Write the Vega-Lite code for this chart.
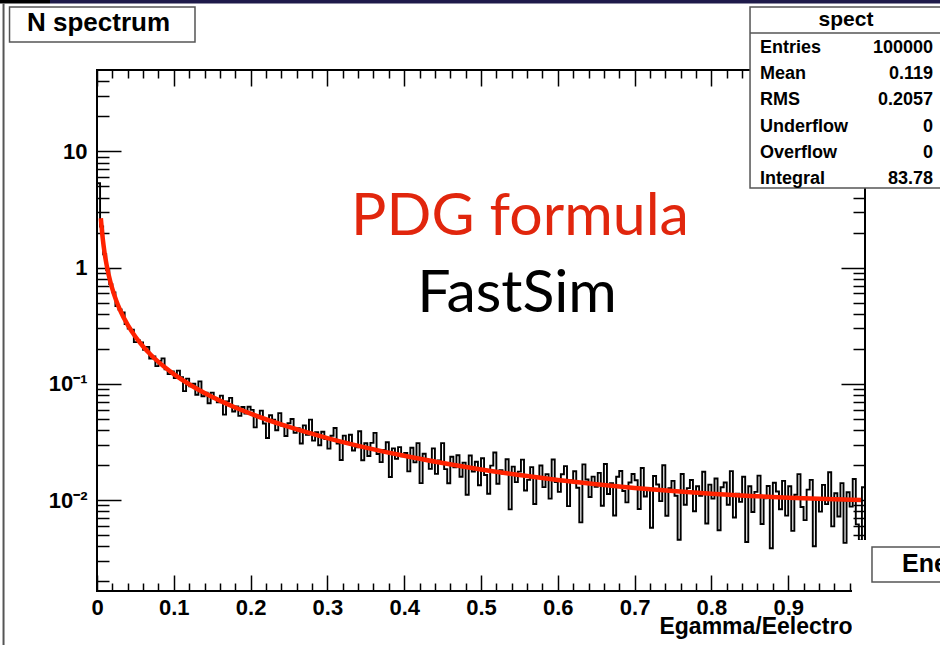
{
  "$schema": "https://vega.github.io/schema/vega-lite/v6.json",
  "width": 768,
  "height": 521,
  "autosize": {"type": "none"},
  "padding": {"left": 97, "top": 70, "right": 75, "bottom": 54},
  "background": "#ffffff",
  "config": {
    "view": {"stroke": "#000000", "strokeWidth": 2},
    "font": "Liberation Sans",
    "axis": {"grid": false, "domain": false, "tickColor": "#000000", "tickWidth": 1.5, "labelFont": "Liberation Sans", "labelFontWeight": "bold", "labelColor": "#000000", "titleFont": "Liberation Sans", "titleFontWeight": "bold", "titleColor": "#000000", "labelOverlap": false, "labelFlush": false}
  },
  "datasets": {
    "hist": [
      {"x":0.000,"y":5.3},{"x":0.004,"y":2.25},{"x":0.008,"y":1.30},{"x":0.012,"y":0.95},{"x":0.016,"y":0.72},
      {"x":0.020,"y":0.611},{"x":0.024,"y":0.467},{"x":0.028,"y":0.436},{"x":0.032,"y":0.411},{"x":0.036,"y":0.326},
      {"x":0.040,"y":0.299},{"x":0.044,"y":0.292},{"x":0.048,"y":0.228},{"x":0.052,"y":0.2355},{"x":0.056,"y":0.2262},
      {"x":0.060,"y":0.1958},{"x":0.064,"y":0.2075},{"x":0.068,"y":0.165},{"x":0.072,"y":0.1716},{"x":0.076,"y":0.1419},
      {"x":0.080,"y":0.1573},{"x":0.084,"y":0.1654},{"x":0.088,"y":0.1335},{"x":0.092,"y":0.1211},{"x":0.096,"y":0.1277},
      {"x":0.100,"y":0.1119},{"x":0.104,"y":0.1297},{"x":0.108,"y":0.1138},{"x":0.112,"y":0.0864},{"x":0.116,"y":0.1108},
      {"x":0.120,"y":0.0951},{"x":0.124,"y":0.0999},{"x":0.128,"y":0.0805},{"x":0.132,"y":0.1048},{"x":0.136,"y":0.0782},
      {"x":0.140,"y":0.0838},{"x":0.144,"y":0.068},{"x":0.148,"y":0.0839},{"x":0.152,"y":0.0748},{"x":0.156,"y":0.0694},
      {"x":0.160,"y":0.0791},{"x":0.164,"y":0.0543},{"x":0.168,"y":0.0705},{"x":0.172,"y":0.0757},{"x":0.176,"y":0.0578},
      {"x":0.180,"y":0.0637},{"x":0.184,"y":0.0529},{"x":0.188,"y":0.0632},{"x":0.192,"y":0.0554},{"x":0.196,"y":0.0634},
      {"x":0.200,"y":0.0596},{"x":0.204,"y":0.0422},{"x":0.208,"y":0.0531},{"x":0.212,"y":0.0588},{"x":0.216,"y":0.0455},
      {"x":0.220,"y":0.0342},{"x":0.224,"y":0.0536},{"x":0.228,"y":0.049},{"x":0.232,"y":0.0398},{"x":0.236,"y":0.0559},
      {"x":0.240,"y":0.0435},{"x":0.244,"y":0.0355},{"x":0.248,"y":0.0457},{"x":0.252,"y":0.0498},{"x":0.256,"y":0.0378},
      {"x":0.260,"y":0.0414},{"x":0.264,"y":0.0306},{"x":0.268,"y":0.0439},{"x":0.272,"y":0.0364},{"x":0.276,"y":0.0492},
      {"x":0.280,"y":0.0324},{"x":0.284,"y":0.0384},{"x":0.288,"y":0.0296},{"x":0.292,"y":0.0387},{"x":0.296,"y":0.0334},
      {"x":0.300,"y":0.0277},{"x":0.304,"y":0.0357},{"x":0.308,"y":0.0417},{"x":0.312,"y":0.0306},{"x":0.316,"y":0.0221},
      {"x":0.320,"y":0.0358},{"x":0.324,"y":0.0314},{"x":0.328,"y":0.0364},{"x":0.332,"y":0.0267},{"x":0.336,"y":0.0284},
      {"x":0.340,"y":0.0391},{"x":0.344,"y":0.022},{"x":0.348,"y":0.0308},{"x":0.352,"y":0.0239},{"x":0.356,"y":0.031},
      {"x":0.360,"y":0.0378},{"x":0.364,"y":0.0249},{"x":0.368,"y":0.0212},{"x":0.372,"y":0.027},{"x":0.376,"y":0.0314},
      {"x":0.380,"y":0.0158},{"x":0.384,"y":0.0278},{"x":0.388,"y":0.0226},{"x":0.392,"y":0.0285},{"x":0.396,"y":0.0238},
      {"x":0.400,"y":0.02535},{"x":0.404,"y":0.01763},{"x":0.408,"y":0.02818},{"x":0.412,"y":0.02108},{"x":0.416,"y":0.03087},
      {"x":0.420,"y":0.01399},{"x":0.424,"y":0.02503},{"x":0.428,"y":0.02198},{"x":0.432,"y":0.01854},{"x":0.436,"y":0.02782},
      {"x":0.440,"y":0.0168},{"x":0.444,"y":0.02191},{"x":0.448,"y":0.03085},{"x":0.452,"y":0.01843},{"x":0.456,"y":0.01395},
      {"x":0.460,"y":0.02355},{"x":0.464,"y":0.01911},{"x":0.468,"y":0.02431},{"x":0.472,"y":0.01586},{"x":0.476,"y":0.02098},
      {"x":0.480,"y":0.01111},{"x":0.484,"y":0.02415},{"x":0.488,"y":0.01761},{"x":0.492,"y":0.02135},{"x":0.496,"y":0.0134},
      {"x":0.500,"y":0.02287},{"x":0.504,"y":0.01642},{"x":0.508,"y":0.01132},{"x":0.512,"y":0.01978},{"x":0.516,"y":0.02567},
      {"x":0.520,"y":0.01382},{"x":0.524,"y":0.01806},{"x":0.528,"y":0.01673},{"x":0.532,"y":0.02243},{"x":0.536,"y":0.00831},
      {"x":0.540,"y":0.01937},{"x":0.544,"y":0.01426},{"x":0.548,"y":0.01754},{"x":0.552,"y":0.02226},{"x":0.556,"y":0.01206},
      {"x":0.560,"y":0.01491},{"x":0.564,"y":0.01917},{"x":0.568,"y":0.00924},{"x":0.572,"y":0.01563},{"x":0.576,"y":0.01979},
      {"x":0.580,"y":0.01292},{"x":0.584,"y":0.01669},{"x":0.588,"y":0.01029},{"x":0.592,"y":0.02232},{"x":0.596,"y":0.01425},
      {"x":0.600,"y":0.01175},{"x":0.604,"y":0.01664},{"x":0.608,"y":0.01957},{"x":0.612,"y":0.00886},{"x":0.616,"y":0.01479},
      {"x":0.620,"y":0.01767},{"x":0.624,"y":0.01275},{"x":0.628,"y":0.00642},{"x":0.632,"y":0.02025},{"x":0.636,"y":0.01503},
      {"x":0.640,"y":0.01061},{"x":0.644,"y":0.01591},{"x":0.648,"y":0.01297},{"x":0.652,"y":0.01712},{"x":0.656,"y":0.00894},
      {"x":0.660,"y":0.02041},{"x":0.664,"y":0.01127},{"x":0.668,"y":0.01396},{"x":0.672,"y":0.00736},{"x":0.676,"y":0.01584},
      {"x":0.680,"y":0.01779},{"x":0.684,"y":0.01195},{"x":0.688,"y":0.00954},{"x":0.692,"y":0.01415},{"x":0.696,"y":0.01673},
      {"x":0.700,"y":0.01481},{"x":0.704,"y":0.00837},{"x":0.708,"y":0.01888},{"x":0.712,"y":0.01073},{"x":0.716,"y":0.01242},
      {"x":0.720,"y":0.00578},{"x":0.724,"y":0.01608},{"x":0.728,"y":0.0136},{"x":0.732,"y":0.00978},{"x":0.736,"y":0.01991},
      {"x":0.740,"y":0.00733},{"x":0.744,"y":0.01267},{"x":0.748,"y":0.01461},{"x":0.752,"y":0.01089},{"x":0.756,"y":0.00455},
      {"x":0.760,"y":0.01673},{"x":0.764,"y":0.0091},{"x":0.768,"y":0.01266},{"x":0.772,"y":0.01489},{"x":0.776,"y":0.00801},
      {"x":0.780,"y":0.01314},{"x":0.784,"y":0.01085},{"x":0.788,"y":0.01753},{"x":0.792,"y":0.00629},{"x":0.796,"y":0.01357},
      {"x":0.800,"y":0.01029},{"x":0.804,"y":0.01533},{"x":0.808,"y":0.0055},{"x":0.812,"y":0.01287},{"x":0.816,"y":0.01416},
      {"x":0.820,"y":0.00911},{"x":0.824,"y":0.01771},{"x":0.828,"y":0.00707},{"x":0.832,"y":0.01133},{"x":0.836,"y":0.00965},
      {"x":0.840,"y":0.01585},{"x":0.844,"y":0.00436},{"x":0.848,"y":0.01313},{"x":0.852,"y":0.0079},{"x":0.856,"y":0.01176},
      {"x":0.860,"y":0.01623},{"x":0.864,"y":0.00622},{"x":0.868,"y":0.01037},{"x":0.872,"y":0.01322},{"x":0.876,"y":0.00385},
      {"x":0.880,"y":0.0141},{"x":0.884,"y":0.01185},{"x":0.888,"y":0.00833},{"x":0.892,"y":0.01462},{"x":0.896,"y":0.00734},
      {"x":0.900,"y":0.01315},{"x":0.904,"y":0.00543},{"x":0.908,"y":0.01109},{"x":0.912,"y":0.01671},{"x":0.916,"y":0.00871},
      {"x":0.920,"y":0.00671},{"x":0.924,"y":0.0123},{"x":0.928,"y":0.01491},{"x":0.932,"y":0.004},{"x":0.936,"y":0.01026},
      {"x":0.940,"y":0.00795},{"x":0.944,"y":0.01349},{"x":0.948,"y":0.00922},{"x":0.952,"y":0.01735},{"x":0.956,"y":0.00593},
      {"x":0.960,"y":0.01144},{"x":0.964,"y":0.00721},{"x":0.968,"y":0.01399},{"x":0.972,"y":0.00428},{"x":0.976,"y":0.01168},
      {"x":0.980,"y":0.00877},{"x":0.984,"y":0.01518},{"x":0.988,"y":0.00618},{"x":0.992,"y":0.0045},{"x":0.996,"y":0.01288},
      {"x":1.000,"y":0.01288}
    ],
    "pdg": [
      {"x":0.005,"y":2.653},{"x":0.0075,"y":1.765},{"x":0.01,"y":1.32},{"x":0.0125,"y":1.053},{"x":0.015,"y":0.876},
      {"x":0.02,"y":0.654},{"x":0.025,"y":0.52},{"x":0.03,"y":0.431},{"x":0.04,"y":0.3204},{"x":0.05,"y":0.2538},
      {"x":0.06,"y":0.2095},{"x":0.07,"y":0.1778},{"x":0.08,"y":0.1541},{"x":0.09,"y":0.1357},{"x":0.1,"y":0.121},
      {"x":0.12,"y":0.099},{"x":0.14,"y":0.0833},{"x":0.16,"y":0.0716},{"x":0.18,"y":0.0625},{"x":0.2,"y":0.0553},
      {"x":0.25,"y":0.0425},{"x":0.3,"y":0.0341},{"x":0.35,"y":0.02826},{"x":0.4,"y":0.024},{"x":0.45,"y":0.0208},
      {"x":0.5,"y":0.01833},{"x":0.55,"y":0.01641},{"x":0.6,"y":0.01489},{"x":0.65,"y":0.01368},{"x":0.7,"y":0.01271},
      {"x":0.75,"y":0.01194},{"x":0.8,"y":0.01133},{"x":0.85,"y":0.01085},{"x":0.9,"y":0.01048},{"x":0.95,"y":0.0102},
      {"x":0.995,"y":0.01002}
    ]
  },
  "resolve": {"axis": {"x": "independent", "y": "independent"}},
  "layer": [
    {
      "data": {"name": "hist"},
      "mark": {"type": "line", "interpolate": "step-after", "color": "#000000", "strokeWidth": 1.9, "clip": true},
      "encoding": {
        "x": {"field": "x", "type": "quantitative",
          "scale": {"domain": [0, 1], "nice": false, "zero": false},
          "axis": {"orient": "bottom", "values": [0,0.1,0.2,0.3,0.4,0.5,0.6,0.7,0.8,0.9], "tickSize": -16, "labelPadding": 22, "labelFontSize": 22, "labelBaseline": "top",
            "labelExpr": "datum.value == 0 ? '0' : format(datum.value, '.1f')",
            "title": "Egamma/Eelectro", "titleFontSize": 23, "titleAlign": "right", "titleX": 755, "titleY": 42, "titleBaseline": "alphabetic"}},
        "y": {"field": "y", "type": "quantitative",
          "scale": {"type": "log", "domain": [0.00165, 50], "nice": false},
          "axis": {"orient": "left", "values": [0.01, 0.1, 1, 10], "tickSize": -24, "labelPadding": 34, "labelFontSize": 22, "labelAlign": "right", "labelBaseline": "middle",
            "labelExpr": "datum.value >= 1 ? format(datum.value, 'd') : (datum.value > 0.05 ? '10⁻¹' : '10⁻²')",
            "title": null}}
      }
    },
    {
      "data": {"name": "pdg"},
      "mark": {"type": "line", "interpolate": "monotone", "color": "#ff2200", "strokeWidth": 4.5, "clip": true},
      "encoding": {
        "x": {"field": "x", "type": "quantitative",
          "axis": {"orient": "bottom", "values": [0.02,0.04,0.06,0.08,0.12,0.14,0.16,0.18,0.22,0.24,0.26,0.28,0.32,0.34,0.36,0.38,0.42,0.44,0.46,0.48,0.52,0.54,0.56,0.58,0.62,0.64,0.66,0.68,0.72,0.74,0.76,0.78,0.82,0.84,0.86,0.88,0.92,0.94,0.96,0.98], "tickSize": -8, "labels": false, "title": null}},
        "y": {"field": "y", "type": "quantitative",
          "axis": {"orient": "left", "values": [0.002,0.003,0.004,0.005,0.006,0.007,0.008,0.009,0.02,0.03,0.04,0.05,0.06,0.07,0.08,0.09,0.2,0.3,0.4,0.5,0.6,0.7,0.8,0.9,2,3,4,5,6,7,8,9,20,30,40], "tickSize": -12, "labels": false, "title": null}}
      }
    },
    {
      "data": {"values": [{}]},
      "mark": {"type": "text", "text": "PDG formula", "font": "Lato", "fontSize": 59, "color": "#e1260d", "align": "center", "baseline": "alphabetic"},
      "encoding": {
        "x": {"datum": 0.5508, "type": "quantitative",
          "axis": {"orient": "top", "values": [0,0.1,0.2,0.3,0.4,0.5,0.6,0.7,0.8,0.9], "tickSize": -16, "labels": false, "title": null}},
        "y": {"datum": 1.904, "type": "quantitative",
          "axis": {"orient": "right", "values": [0.01, 0.1, 1, 10], "tickSize": -24, "labels": false, "title": null}}
      }
    },
    {
      "data": {"values": [{}]},
      "mark": {"type": "text", "text": "FastSim", "font": "Lato", "fontSize": 59, "color": "#000000", "align": "center", "baseline": "alphabetic"},
      "encoding": {
        "x": {"datum": 0.5469, "type": "quantitative",
          "axis": {"orient": "top", "values": [0.02,0.04,0.06,0.08,0.12,0.14,0.16,0.18,0.22,0.24,0.26,0.28,0.32,0.34,0.36,0.38,0.42,0.44,0.46,0.48,0.52,0.54,0.56,0.58,0.62,0.64,0.66,0.68,0.72,0.74,0.76,0.78,0.82,0.84,0.86,0.88,0.92,0.94,0.96,0.98], "tickSize": -8, "labels": false, "title": null}},
        "y": {"datum": 0.4143, "type": "quantitative",
          "axis": {"orient": "right", "values": [0.002,0.003,0.004,0.005,0.006,0.007,0.008,0.009,0.02,0.03,0.04,0.05,0.06,0.07,0.08,0.09,0.2,0.3,0.4,0.5,0.6,0.7,0.8,0.9,2,3,4,5,6,7,8,9,20,30,40], "tickSize": -12, "labels": false, "title": null}}
      }
    },
    {
      "data": {"values": [{}]},
      "mark": {"type": "rect", "fill": "#ffffff", "stroke": null},
      "encoding": {
        "x": {"datum": 0.9831, "type": "quantitative", "axis": null}, "x2": {"datum": 1.12},
        "y": {"datum": 0.004529, "type": "quantitative", "axis": null}, "y2": {"datum": 0.0004}
      }
    },
    {
      "data": {"values": [{}]},
      "mark": {"type": "rect", "fill": "#ffffff", "stroke": "#555555", "strokeWidth": 1.5},
      "encoding": {
        "x": {"datum": 1.0091, "type": "quantitative", "axis": null}, "x2": {"datum": 1.12},
        "y": {"datum": 0.003942, "type": "quantitative", "axis": null}, "y2": {"datum": 0.001971}
      }
    },
    {
      "data": {"values": [{}]},
      "mark": {"type": "text", "text": "Ene", "font": "Liberation Sans", "fontWeight": "bold", "fontSize": 25, "color": "#000000", "align": "left", "baseline": "alphabetic"},
      "encoding": {
        "x": {"datum": 1.0482, "type": "quantitative", "axis": null},
        "y": {"datum": 0.002403, "type": "quantitative", "axis": null}
      }
    },
    {
      "data": {"values": [{}]},
      "mark": {"type": "rect", "fill": "#ffffff", "stroke": "#555555", "strokeWidth": 1.5},
      "encoding": {
        "x": {"datum": 0.8503, "type": "quantitative", "axis": null}, "x2": {"datum": 1.12},
        "y": {"datum": 174.1, "type": "quantitative", "axis": null}, "y2": {"datum": 4.83}
      }
    },
    {
      "data": {"values": [{}]},
      "mark": {"type": "rule", "stroke": "#555555", "strokeWidth": 1.5},
      "encoding": {
        "x": {"datum": 0.8503, "type": "quantitative", "axis": null}, "x2": {"datum": 1.12},
        "y": {"datum": 104.1, "type": "quantitative", "axis": null}
      }
    },
    {
      "data": {"values": [{}]},
      "mark": {"type": "text", "text": "spect", "font": "Liberation Sans", "fontWeight": "bold", "fontSize": 21, "color": "#000000", "align": "center", "baseline": "alphabetic"},
      "encoding": {
        "x": {"datum": 0.9753, "type": "quantitative", "axis": null},
        "y": {"datum": 119.5, "type": "quantitative", "axis": null}
      }
    },
    {
      "data": {"values": [{}]},
      "mark": {"type": "text", "text": ["Entries", "Mean", "RMS", "Underflow", "Overflow", "Integral"], "lineHeight": 26.2, "font": "Liberation Sans", "fontWeight": "bold", "fontSize": 18, "color": "#000000", "align": "left", "baseline": "alphabetic"},
      "encoding": {
        "x": {"datum": 0.8633, "type": "quantitative", "axis": null},
        "y": {"datum": 70.01, "type": "quantitative", "axis": null}
      }
    },
    {
      "data": {"values": [{}]},
      "mark": {"type": "text", "text": ["100000", "0.119", "0.2057", "0", "0", "83.78"], "lineHeight": 26.2, "font": "Liberation Sans", "fontWeight": "bold", "fontSize": 18, "color": "#000000", "align": "right", "baseline": "alphabetic"},
      "encoding": {
        "x": {"datum": 1.0885, "type": "quantitative", "axis": null},
        "y": {"datum": 70.01, "type": "quantitative", "axis": null}
      }
    },
    {
      "data": {"values": [{}]},
      "mark": {"type": "rect", "fill": "#ffffff", "stroke": "#555555", "strokeWidth": 1.5},
      "encoding": {
        "x": {"datum": -0.1139, "type": "quantitative", "axis": null}, "x2": {"datum": 0.1276},
        "y": {"datum": 174.1, "type": "quantitative", "axis": null}, "y2": {"datum": 87.07}
      }
    },
    {
      "data": {"values": [{}]},
      "mark": {"type": "text", "text": "N spectrum", "font": "Liberation Sans", "fontWeight": "bold", "fontSize": 26, "color": "#000000", "align": "left", "baseline": "alphabetic"},
      "encoding": {
        "x": {"datum": -0.0912, "type": "quantitative", "axis": null},
        "y": {"datum": 107.2, "type": "quantitative", "axis": null}
      }
    },
    {
      "data": {"values": [{}]},
      "mark": {"type": "rect", "fill": "#1e1a4a", "stroke": null},
      "encoding": {
        "x": {"datum": -0.0612, "type": "quantitative", "axis": null}, "x2": {"datum": 1.12},
        "y": {"datum": 230, "type": "quantitative", "axis": null}, "y2": {"datum": 186.6}
      }
    },
    {
      "data": {"values": [{}]},
      "mark": {"type": "rect", "fill": "#000000", "stroke": null},
      "encoding": {
        "x": {"datum": -0.14, "type": "quantitative", "axis": null}, "x2": {"datum": -0.0612},
        "y": {"datum": 230, "type": "quantitative", "axis": null}, "y2": {"datum": 186.6}
      }
    },
    {
      "data": {"values": [{}]},
      "mark": {"type": "rule", "stroke": "#555555", "strokeWidth": 2},
      "encoding": {
        "x": {"datum": -0.1217, "type": "quantitative", "axis": null},
        "y": {"datum": 186.6, "type": "quantitative", "axis": null}, "y2": {"datum": 0.0004}
      }
    }
  ]
}
